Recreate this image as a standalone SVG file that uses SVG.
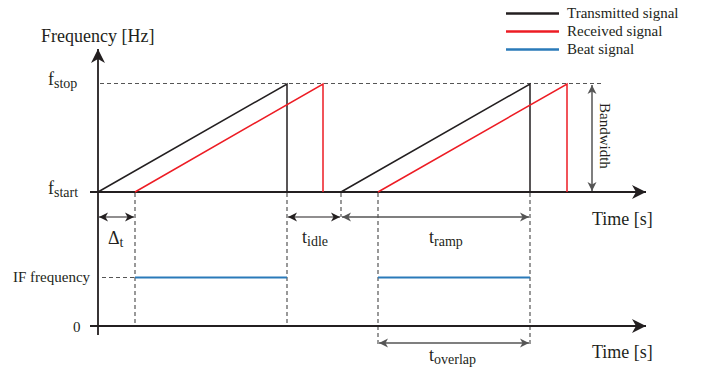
<svg xmlns="http://www.w3.org/2000/svg" width="709" height="371" viewBox="0 0 709 371">
<style>
text{font-family:"Liberation Serif","Times New Roman",serif;fill:#231f20}
.lbl{font-size:18px}
.sm{font-size:15px}
.sub{font-size:14px}
.axis{stroke:#231f20;stroke-width:1.8;fill:none}
.tx{stroke:#231f20;stroke-width:1.5;fill:none}
.rx{stroke:#ed1c24;stroke-width:1.5;fill:none}
.beat{stroke:#2a7ab9;stroke-width:2;fill:none}
.dash{stroke:#555;stroke-width:1.2;stroke-dasharray:4 3;fill:none}
.dim{stroke:#555;stroke-width:1.5;fill:none}
.dimk{stroke:#231f20;stroke-width:1.2;fill:none}
</style>
<defs>
<marker id="ax" markerUnits="userSpaceOnUse" viewBox="-15 -8 17 16" markerWidth="17" markerHeight="16" refX="0" refY="0" orient="auto">
<path d="M0,0 L-14,-7 L-10,0 L-14,7 z" fill="#231f20"/>
</marker>
<marker id="dg" markerUnits="userSpaceOnUse" viewBox="-11 -6 13 12" markerWidth="13" markerHeight="12" refX="0" refY="0" orient="auto-start-reverse">
<path d="M0,0 L-9,-4.5 L-6.5,0 L-9,4.5 z" fill="#555"/>
</marker>
<marker id="dk" markerUnits="userSpaceOnUse" viewBox="-11 -6 13 12" markerWidth="13" markerHeight="12" refX="0" refY="0" orient="auto-start-reverse">
<path d="M0,0 L-9,-4.5 L-6.5,0 L-9,4.5 z" fill="#231f20"/>
</marker>
</defs>

<g id="legend">
<line x1="506" y1="13.5" x2="559" y2="13.5" stroke="#231f20" stroke-width="2.5"/>
<line x1="506" y1="31.5" x2="559" y2="31.5" stroke="#ed1c24" stroke-width="2.5"/>
<line x1="506" y1="49.5" x2="559" y2="49.5" stroke="#2a7ab9" stroke-width="2.5"/>
<text class="sm" x="567" y="18">Transmitted signal</text>
<text class="sm" x="567" y="36">Received signal</text>
<text class="sm" x="567" y="54">Beat signal</text>
</g>

<g id="connectors">
<line class="dash" x1="100" y1="83.5" x2="603" y2="83.5"/>
<line class="dash" x1="102" y1="277.5" x2="135" y2="277.5"/>
<line class="dash" x1="135" y1="193" x2="135" y2="325"/>
<line class="dash" x1="287" y1="193" x2="287" y2="325"/>
<line class="dash" x1="341" y1="193" x2="341" y2="217"/>
<line class="dash" x1="378" y1="193" x2="378" y2="344"/>
<line class="dash" x1="530" y1="193" x2="530" y2="344"/>
</g>

<g id="axes">
<line class="axis" x1="98" y1="335" x2="98" y2="49" marker-end="url(#ax)"/>
<line class="axis" x1="90" y1="192" x2="646" y2="192" marker-end="url(#ax)"/>
<line class="axis" x1="90" y1="326" x2="646" y2="326" marker-end="url(#ax)"/>
<text class="lbl" x="41" y="42">Frequency [Hz]</text>
<text class="lbl" x="592" y="225">Time [s]</text>
<text class="lbl" x="592" y="358">Time [s]</text>
<text class="lbl" x="48" y="85">f<tspan class="sub" dy="3">stop</tspan></text>
<text class="lbl" x="48" y="194">f<tspan class="sub" dy="3">start</tspan></text>
<text class="sm" x="13" y="282">IF frequency</text>
<text class="sm" x="73" y="332">0</text>
</g>

<g id="transmitted">
<polyline class="tx" points="98,192 287,84 287,192"/>
<polyline class="tx" points="341,192 530,84 530,192"/>
</g>

<g id="received">
<polyline class="rx" points="135,192 323,84 323,192"/>
<polyline class="rx" points="378,192 567,84 567,192"/>
</g>

<g id="beat">
<line class="beat" x1="135" y1="277.5" x2="287" y2="277.5"/>
<line class="beat" x1="378" y1="277.5" x2="530" y2="277.5"/>
</g>

<g id="dimensions">
<line class="dimk" x1="99" y1="217" x2="134" y2="217" marker-start="url(#dk)" marker-end="url(#dk)"/>
<text class="lbl" x="108" y="244">Δ<tspan class="sub" dy="3">t</tspan></text>
<line class="dimk" x1="288" y1="217" x2="340" y2="217" marker-start="url(#dk)" marker-end="url(#dk)"/>
<text class="lbl" x="302" y="243">t<tspan class="sub" dy="3">idle</tspan></text>
<line class="dim" x1="342" y1="217" x2="529" y2="217" marker-start="url(#dg)" marker-end="url(#dg)"/>
<text class="lbl" x="429" y="243">t<tspan class="sub" dy="3">ramp</tspan></text>
<line class="dim" x1="379" y1="343" x2="529" y2="343" marker-start="url(#dg)" marker-end="url(#dg)"/>
<text class="lbl" x="429" y="361">t<tspan class="sub" dy="3">overlap</tspan></text>
<line class="dim" x1="592" y1="85" x2="592" y2="191" marker-start="url(#dg)" marker-end="url(#dg)"/>
<text class="sm" transform="translate(600,103) rotate(90)">Bandwidth</text>
</g>
</svg>
